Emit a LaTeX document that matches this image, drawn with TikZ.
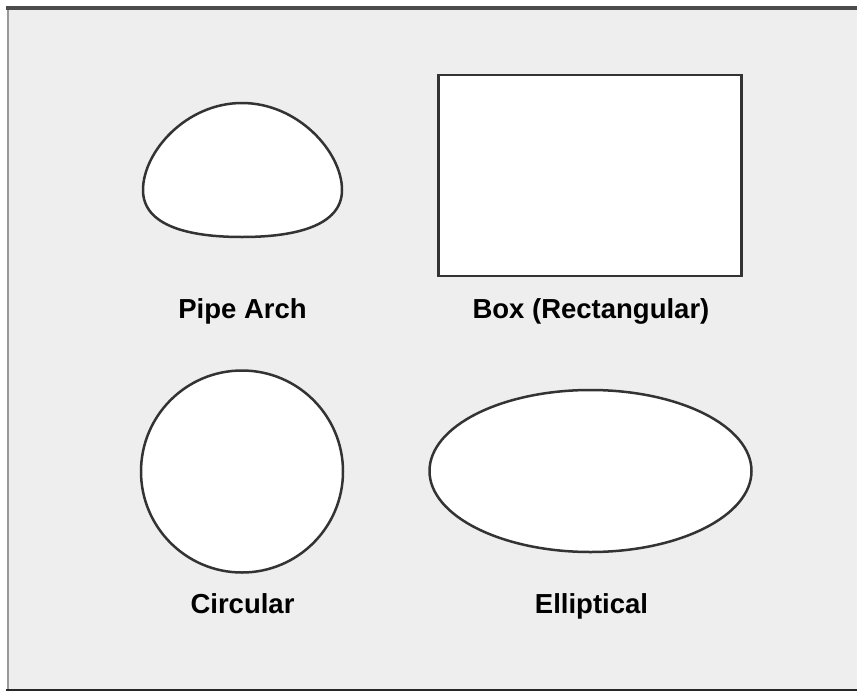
\documentclass[tikz,border=0pt]{standalone}
\usepackage{fontspec}
\setmainfont{Liberation Sans}
\definecolor{bgfill}{HTML}{EEEEEE}
\definecolor{edge}{HTML}{333333}
\begin{document}
\begin{tikzpicture}[x=1pt,y=-1pt,
  outl/.style={draw=edge,fill=white,line width=2.5pt},
  lbl/.style={anchor=base,font=\bfseries\fontsize{27.5}{30}\selectfont,text=black,inner sep=0pt}]
\useasboundingbox (0,0) rectangle (857,691);
\clip (0,0) rectangle (857,691);
\fill[bgfill] (8,8) rectangle (860,691);
\draw[line width=2pt,color=black!40] (8,8) -- (8,691);
\draw[line width=3.5pt,color=black!70] (6,8) -- (860,8);
\draw[line width=2.5pt,color=black!85] (6,690) -- (860,690);
% pipe arch
\draw[outl] (143,190) .. controls (143,152) and (186,103) .. (242,103)
  .. controls (298,103) and (342,152) .. (342,190)
  .. controls (342,226) and (295,237) .. (242,237)
  .. controls (189,237) and (143,226) .. (143,190) -- cycle;
\node[lbl] (lpa) at (242.5,318) {Pipe Arch};
% box
\node[outl,minimum width=303pt,minimum height=201pt,inner sep=0pt] (box) at (590,175.5) {};
\node[lbl] (lbox) at (591,318) {Box (Rectangular)};
% circle
\node[outl,circle,minimum size=202pt,inner sep=0pt] (circ) at (242,471.5) {};
\node[lbl] (lcirc) at (242.5,613) {Circular};
% ellipse
\draw[outl] (590.5,471) ellipse [x radius=161pt,y radius=81pt];
\node[lbl] (lell) at (591.5,613) {Elliptical};
\end{tikzpicture}
\end{document}
